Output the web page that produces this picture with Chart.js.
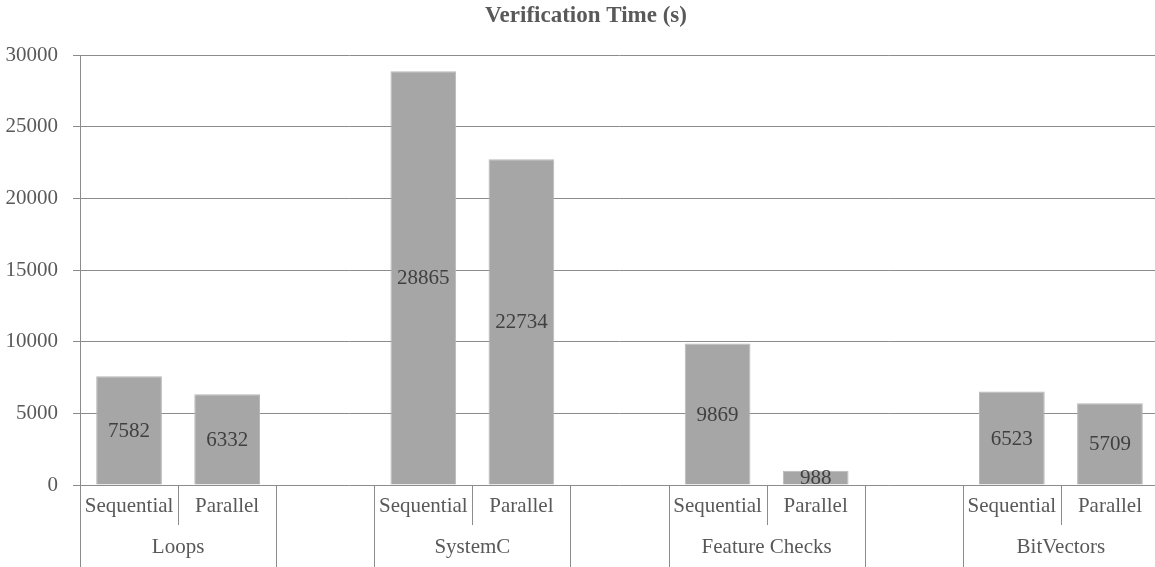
<!DOCTYPE html>
<html>
<head>
<meta charset="utf-8">
<title>Verification Time (s)</title>
<script src="https://cdn.jsdelivr.net/npm/chart.js@4/dist/chart.umd.min.js"></script>
<style>
  html, body { margin: 0; padding: 0; background: #fff; overflow: hidden; }
  #wrap { width: 1155px; height: 567px; overflow: hidden; }
</style>
</head>
<body>
<div id="wrap"><canvas id="timeChart" width="1159" height="567"></canvas></div>
<script>
/* données du graphique */
const categories = ["Sequential", "Parallel", "", "Sequential", "Parallel", "", "Sequential", "Parallel", "", "Sequential", "Parallel"];
const groups = ["Loops", "Loops", "", "SystemC", "SystemC", "", "Feature Checks", "Feature Checks", "", "BitVectors", "BitVectors"];
const times = [7582, 6332, null, 28865, 22734, null, 9869, 988, null, 6523, 5709];
const yTicks = [0, 5000, 10000, 15000, 20000, 25000, 30000];

const FONT = "'Liberation Serif', 'Times New Roman', serif";
const TEXT = "#595959";
const LINE = "#8c8c8c";

// axe x à deux niveaux + titre + étiquettes des barres
const excelAxis = {
  id: "excelAxis",
  afterDraw(chart) {
    const ctx = chart.ctx;
    const x = chart.scales.x;
    const area = chart.chartArea;
    const bottom = area.bottom;
    const step = x.getPixelForValue(1) - x.getPixelForValue(0);

    ctx.save();
    // titre
    ctx.fillStyle = TEXT;
    ctx.font = "bold 23px " + FONT;
    ctx.textAlign = "center";
    ctx.textBaseline = "middle";
    ctx.fillText("Verification Time (s)", 586, 16);

    // ligne de l'axe y, prolongée sous les libellés
    ctx.strokeStyle = LINE;
    ctx.lineWidth = 1;
    const left = Math.round(area.left) + 0.5;
    ctx.beginPath();
    ctx.moveTo(left, area.top);
    ctx.lineTo(left, 567);
    ctx.stroke();

    // libellés de premier niveau et séparateurs
    ctx.font = "21px " + FONT;
    categories.forEach((c, i) => {
      const cx = x.getPixelForValue(i);
      ctx.fillText(c, cx, bottom + 21);
      if (i > 0) {
        const bx = Math.round(cx - step / 2) + 0.5;
        const full = groups[i] !== groups[i - 1] || groups[i] === "";
        ctx.beginPath();
        ctx.moveTo(bx, bottom);
        ctx.lineTo(bx, full ? 567 : bottom + 40);
        ctx.stroke();
      }
    });

    // libellés des groupes
    let start = 0;
    for (let i = 1; i <= groups.length; i++) {
      if (i === groups.length || groups[i] !== groups[start]) {
        if (groups[start]) {
          const cx = (x.getPixelForValue(start) + x.getPixelForValue(i - 1)) / 2;
          ctx.fillText(groups[start], cx, bottom + 62);
        }
        start = i;
      }
    }

    // valeurs au centre des barres
    ctx.fillStyle = "#404040";
    chart.getDatasetMeta(0).data.forEach((bar, i) => {
      if (times[i] == null) return;
      const mid = (bar.y + bar.base) / 2;
      ctx.fillText(String(times[i]), bar.x, mid + 1);
    });
    ctx.restore();
  }
};

new Chart(document.getElementById("timeChart"), {
  type: "bar",
  data: {
    labels: categories,
    datasets: [{
      label: "Verification Time (s)",
      data: times,
      backgroundColor: "#a6a6a6",
      borderColor: "#b8b8b8",
      borderWidth: 1,
      barPercentage: 0.67,
      categoryPercentage: 1
    }]
  },
  options: {
    responsive: false,
    animation: false,
    layout: { padding: { top: 55, right: 0, left: 0, bottom: 0 } },
    plugins: {
      legend: { display: false },
      title: { display: false },
      tooltip: { enabled: false }
    },
    scales: {
      x: {
        offset: true,
        grid: { display: false },
        border: { display: false },
        ticks: { display: false },
        afterFit(scale) { scale.height = 82; }
      },
      y: {
        min: 0,
        max: 30000,
        afterBuildTicks(scale) { scale.ticks = yTicks.map(v => ({ value: v })); },
        afterFit(scale) { scale.width = 80; },
        border: { display: false },
        grid: { color: LINE, tickLength: 7, lineWidth: 1 },
        ticks: {
          color: TEXT,
          padding: 15,
          font: { family: FONT, size: 21 },
          callback: v => String(v)
        }
      }
    }
  },
  plugins: [excelAxis]
});
</script>
</body>
</html>
